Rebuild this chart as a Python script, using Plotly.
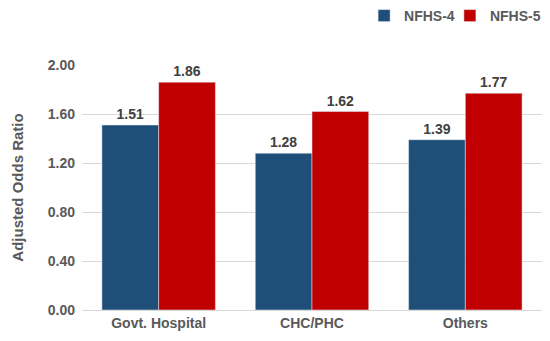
import plotly.graph_objects as go

categories = ["Govt. Hospital", "CHC/PHC", "Others"]
nfhs4 = [1.51, 1.28, 1.39]
nfhs5 = [1.86, 1.62, 1.77]
yticks = [0.0, 0.4, 0.8, 1.2, 1.6, 2.0]

font_family = "Liberation Sans, Arial, sans-serif"
label_font = dict(size=14, color="#404040", family=font_family)
legend_font = dict(size=14, color="#595959", family=font_family)

fig = go.Figure()
fig.add_bar(name="<b>NFHS-4</b>", x=categories, y=nfhs4, marker_color="#1F4E79",
            text=[f"{v:.2f}" for v in nfhs4], texttemplate="<b>%{text}</b>",
            textposition="outside", textfont=label_font, cliponaxis=False,
            legend="legend")
fig.add_bar(name="<b>NFHS-5</b>", x=categories, y=nfhs5, marker_color="#C00000",
            text=[f"{v:.2f}" for v in nfhs5], texttemplate="<b>%{text}</b>",
            textposition="outside", textfont=label_font, cliponaxis=False,
            legend="legend2")

fig.update_layout(
    width=550, height=341,
    margin=dict(l=82, r=8, t=65, b=31, autoexpand=False),
    barmode="group", bargap=0.26, bargroupgap=0,
    plot_bgcolor="white", paper_bgcolor="white",
    font=dict(family=font_family, color="#595959", size=12),
    legend=dict(orientation="h", xref="container", yref="container",
                x=0.662, xanchor="left", y=1.0, yanchor="top",
                bgcolor="rgba(0,0,0,0)", font=legend_font, itemwidth=30),
    legend2=dict(orientation="h", xref="container", yref="container",
                 x=0.818, xanchor="left", y=1.0, yanchor="top",
                 bgcolor="rgba(0,0,0,0)", font=legend_font, itemwidth=30),
    showlegend=True,
)
fig.update_xaxes(showline=True, linecolor="#D9D9D9", linewidth=1, ticks="",
                 automargin=False,
                 tickvals=categories, ticktext=[f"<b>{c}</b>" for c in categories],
                 tickfont=dict(size=14, color="#595959", family=font_family))
fig.update_yaxes(range=[0, 2.0], tickvals=yticks, ticktext=[f"<b>{v:.2f}</b>" for v in yticks],
                 automargin=False, ticklabelstandoff=6,
                 showgrid=True, gridcolor="#D9D9D9", gridwidth=1, zeroline=False,
                 tickfont=dict(size=14, color="#595959", family=font_family),
                 title=dict(text="<b>Adjusted Odds Ratio</b>",
                            font=dict(size=15, color="#595959", family=font_family), standoff=20))

fig.write_html("out.html", config={"displayModeBar": False},
               post_script="document.body.style.margin='0';")
